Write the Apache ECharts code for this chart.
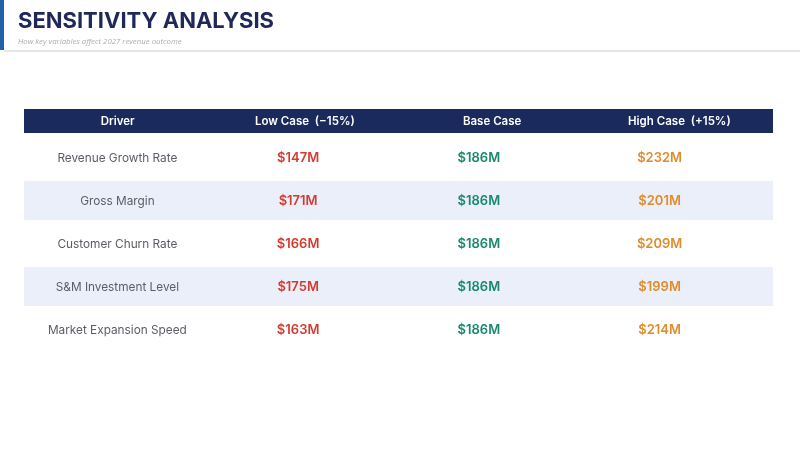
<!DOCTYPE html>
<html>
<head>
<meta charset="utf-8">
<script src="https://cdn.jsdelivr.net/npm/echarts@6/dist/echarts.min.js"></script>
<style>
  html, body { margin: 0; padding: 0; background: #fff; }
  #chart { width: 800px; height: 450px; }
</style>
</head>
<body>
<div id="chart"></div>
<script>
// table data
var columns = ['Driver', 'Low Case  (\u221215%)', 'Base Case', 'High Case  (+15%)'];
var drivers = ['Revenue Growth Rate', 'Gross Margin', 'Customer Churn Rate', 'S&M Investment Level', 'Market Expansion Speed'];
var lowCase = [147, 171, 166, 175, 163];
var baseCase = [186, 186, 186, 186, 186];
var highCase = [232, 201, 209, 199, 214];

var caseColors = ['#d13b30', '#17886c', '#e08c2b'];
var FONT = 'Inter, "Noto Sans", sans-serif';

function money(v) { return '$' + v + 'M'; }

// header cells
var headerData = columns.map(function (c, i) { return [i, 0, c]; });

// stripe rows
var rowData = drivers.map(function (d, i) { return [0, i]; });

// body cells: [col, row, text, kind]
var cellData = [];
drivers.forEach(function (d, r) {
  cellData.push([0, r, d, -1]);
  cellData.push([1, r, money(lowCase[r]), 0]);
  cellData.push([2, r, money(baseCase[r]), 1]);
  cellData.push([3, r, money(highCase[r]), 2]);
});

var chart = echarts.init(document.getElementById('chart'));

var hiddenAxis = {
  axisLine: { show: false }, axisTick: { show: false },
  axisLabel: { show: false }, splitLine: { show: false }
};

var option = {
  backgroundColor: '#ffffff',
  animation: false,
  title: {
    text: 'SENSITIVITY ANALYSIS',
    subtext: 'How key variables affect 2027 revenue outcome',
    left: 13,
    top: 5,
    itemGap: 6,
    textStyle: { fontFamily: FONT, fontSize: 22, fontWeight: 'bold', color: '#1f2858' },
    subtextStyle: { fontFamily: '"Open Sans", sans-serif', fontSize: 7.8, fontStyle: 'italic', color: '#a9adb5' }
  },
  graphic: [
    { type: 'rect', shape: { x: 0, y: 0, width: 4, height: 50 }, style: { fill: '#2160a8' } },
    { type: 'rect', shape: { x: 4, y: 50, width: 796, height: 2 }, style: { fill: '#e2e5eb' } }
  ],
  grid: [
    { left: 24, right: 27, top: 109, height: 24 },
    { left: 24, right: 27, top: 136, height: 215 },
    { left: 27, right: 50, top: 137, height: 215 }
  ],
  xAxis: [
    Object.assign({ type: 'category', gridIndex: 0, data: columns }, hiddenAxis),
    Object.assign({ type: 'category', gridIndex: 1, data: ['row'] }, hiddenAxis),
    Object.assign({ type: 'category', gridIndex: 2, data: columns }, hiddenAxis)
  ],
  yAxis: [
    Object.assign({ type: 'category', gridIndex: 0, data: ['head'] }, hiddenAxis),
    Object.assign({ type: 'category', gridIndex: 1, data: drivers, inverse: true }, hiddenAxis),
    Object.assign({ type: 'category', gridIndex: 2, data: drivers, inverse: true }, hiddenAxis)
  ],
  series: [
    {
      type: 'custom',
      xAxisIndex: 0, yAxisIndex: 0,
      data: headerData,
      renderItem: function (params, api) {
        var c = api.coord([api.value(0), api.value(1)]);
        var s = api.size([1, 1]);
        // overlap neighbouring cells a little so no seam shows
        var extra = params.dataIndex < columns.length - 1 ? 1 : 0;
        return {
          type: 'group',
          children: [
            { type: 'rect', shape: { x: c[0] - s[0] / 2, y: c[1] - s[1] / 2, width: s[0] + extra, height: s[1] },
              style: { fill: '#1b2a5c' } },
            { type: 'text', x: c[0], y: c[1] + 0.5,
              style: { text: headerData[params.dataIndex][2], fill: '#ffffff', align: 'center', verticalAlign: 'middle',
                font: '600 11.5px ' + FONT } }
          ]
        };
      }
    },
    {
      type: 'custom',
      xAxisIndex: 1, yAxisIndex: 1,
      data: rowData,
      renderItem: function (params, api) {
        if (api.value(1) % 2 === 0) return null;
        var c = api.coord([api.value(0), api.value(1)]);
        var s = api.size([1, 1]);
        return {
          type: 'rect',
          shape: { x: c[0] - s[0] / 2, y: c[1] - s[1] / 2 + 2, width: s[0], height: s[1] - 4 },
          style: { fill: '#eaeffa' }
        };
      }
    },
    {
      type: 'custom',
      xAxisIndex: 2, yAxisIndex: 2,
      data: cellData,
      renderItem: function (params, api) {
        var d = cellData[params.dataIndex];
        var c = api.coord([api.value(0), api.value(1)]);
        var isDriver = d[3] < 0;
        return {
          type: 'text', x: c[0], y: c[1],
          style: {
            text: d[2],
            fill: isDriver ? '#5a5d66' : caseColors[d[3]],
            align: 'center', verticalAlign: 'middle',
            font: (isDriver ? '400 11.8px ' : '600 13px ') + FONT
          }
        };
      }
    }
  ]
};

chart.setOption(option);
</script>
</body>
</html>
